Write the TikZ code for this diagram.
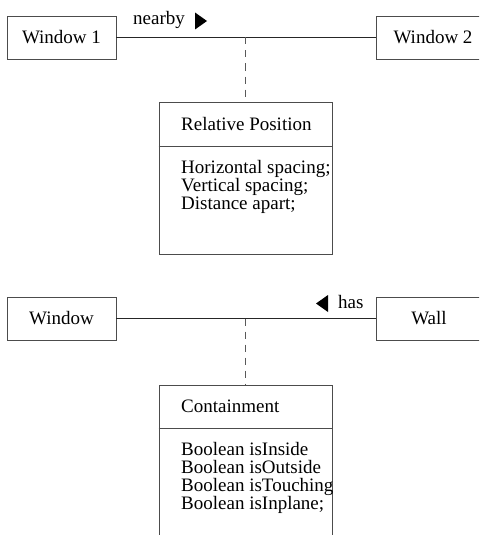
\documentclass[tikz,border=0pt]{standalone}
\usepackage{fontspec}
\setmainfont{Liberation Serif}
\usetikzlibrary{positioning}

\tikzset{
  objbox/.style={draw=black!70, line width=0.8pt, minimum height=43pt, inner sep=0pt,
    font=\fontsize{19}{18}\selectfont},
  classbox/.style={draw=black!70, line width=0.8pt, minimum width=173pt, minimum height=152pt, inner sep=0pt},
  txt/.style={inner sep=0pt, anchor=base west, font=\fontsize{19}{18}\selectfont},
  link/.style={line width=0.8pt, black!85},
  tie/.style={line width=0.8pt, black!65, dash pattern=on 7pt off 6pt},
}

\begin{document}
\begin{tikzpicture}[x=1pt,y=-1pt]
  \useasboundingbox (0,0) rectangle (479,535);
  \clip (0,0) rectangle (479,535);

  % upper association: Window 1 -- Window 2
  \node[objbox, minimum width=109pt] (win1) at (61.5,37.5) {Window 1};
  \node[objbox, minimum width=114pt] (win2) at (433,37.5) {Window 2};
  \draw[link] (win1.east) -- (win2.west);
  \node[txt] (nearby) at (133,25) {nearby};
  \fill (195,12.5) -- (207,21) -- (195,29.5) -- cycle;

  \node[classbox] (relpos) at (245.5,178) {};
  \coordinate (tie1) at (relpos.north |- win1.east);
  \draw[tie] (tie1) -- (relpos.north);
  \draw[link, black!70] (relpos.west |- 0,146) -- (relpos.east |- 0,146);
  \node[txt] (relposname) at (181,130) {Relative Position};
  \node[txt] (hspace) at (181,173) {Horizontal spacing;};
  \node[txt] (vspace) at (181,191) {Vertical spacing;};
  \node[txt] (dist) at (181,209) {Distance apart;};

  % lower association: Window -- Wall
  \node[objbox, minimum width=109pt] (win) at (61.5,318.5) {Window};
  \node[objbox, minimum width=106pt] (wall) at (429,318.5) {Wall};
  \draw[link] (win.east) -- (wall.west);
  \node[txt] (has) at (338,308) {has};
  \fill (328,295) -- (316,303.5) -- (328,312) -- cycle;

  \node[classbox] (contain) at (245.5,461) {};
  \coordinate (tie2) at (contain.north |- win.east);
  \draw[tie] (tie2) -- (contain.north);
  \draw[link, black!70] (contain.west |- 0,428) -- (contain.east |- 0,428);
  \node[txt] (containname) at (181,412) {Containment};
  \node[txt] (inside) at (181,455) {Boolean isInside};
  \node[txt] (outside) at (181,473) {Boolean isOutside};
  \node[txt] (touching) at (181,491) {Boolean isTouching};
  \node[txt] (inplane) at (181,509) {Boolean isInplane;};
\end{tikzpicture}
\end{document}
